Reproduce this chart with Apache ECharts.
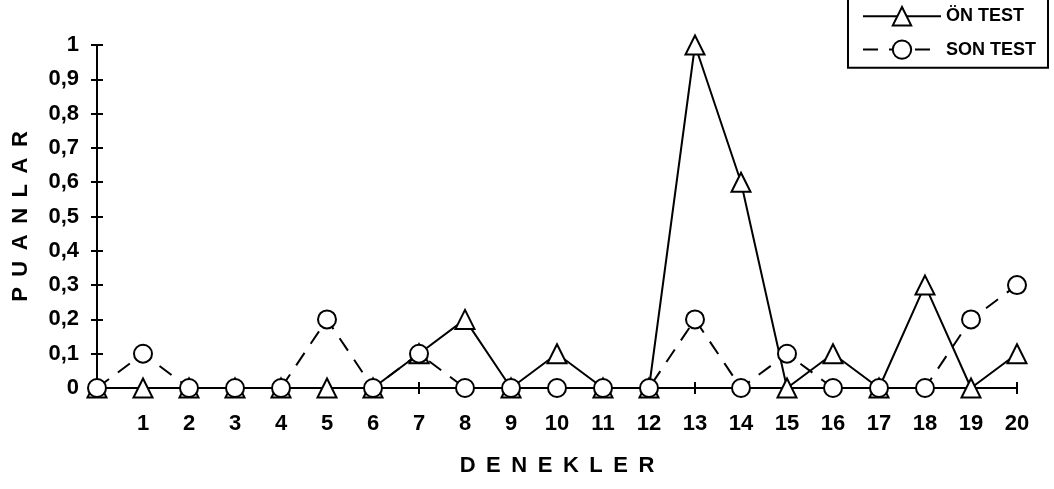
<!DOCTYPE html>
<html>
<head>
<meta charset="utf-8">
<script src="https://cdn.jsdelivr.net/npm/echarts@6/dist/echarts.min.js"></script>
<style>html,body{margin:0;padding:0;background:#fff}#c{width:1054px;height:489px}</style>
</head>
<body>
<div id="c"></div>
<script>
var categories = ['', '1', '2', '3', '4', '5', '6', '7', '8', '9', '10', '11', '12', '13', '14', '15', '16', '17', '18', '19', '20'];
var onTest = [0, 0, 0, 0, 0, 0, 0, 0.1, 0.2, 0, 0.1, 0, 0, 1, 0.6, 0, 0.1, 0, 0.3, 0, 0.1];
var sonTest = [0, 0.1, 0, 0, 0, 0.2, 0, 0.1, 0, 0, 0, 0, 0, 0.2, 0, 0.1, 0, 0, 0, 0.2, 0.3];
var yMin = 0, yMax = 1, yStep = 0.1;

var FONT = 'Liberation Sans, Arial, sans-serif';
var SP = ' \u2009';
function spaced(s) { return s.split('').join(SP); }
var chart = echarts.init(document.getElementById('c'));
chart.setOption({
  animation: false,
  backgroundColor: '#fff',
  grid: {left: 97, right: 37, top: 45, bottom: 101},
  legend: {
    orient: 'vertical',
    right: 6,
    top: -4,
    padding: [10, 12, 8, 14],
    itemWidth: 78,
    itemHeight: 23,
    itemGap: 13,
    borderColor: '#000',
    borderWidth: 2,
    backgroundColor: '#fff',
    textStyle: {fontFamily: FONT, fontWeight: 'bold', fontSize: 18, color: '#000'},
    data: ['ÖN TEST', 'SON TEST']
  },
  xAxis: [{
    type: 'category',
    data: categories,
    boundaryGap: false,
    axisLine: {lineStyle: {color: '#000', width: 2}},
    axisTick: {show: true, length: 6, interval: 0, lineStyle: {color: '#000', width: 2}},
    axisLabel: {interval: 0, margin: 25, fontFamily: FONT, fontWeight: 'bold', fontSize: 22, color: '#000'},
    name: spaced('DENEKLER'),
    nameLocation: 'middle',
    nameGap: 67,
    nameTextStyle: {fontFamily: FONT, fontWeight: 'bold', fontSize: 22, color: '#000'}
  }, {
    type: 'category',
    data: categories,
    boundaryGap: false,
    position: 'bottom',
    axisLine: {show: false},
    axisTick: {show: true, inside: true, length: 6, interval: 0, lineStyle: {color: '#000', width: 2}},
    axisLabel: {show: false}
  }],
  yAxis: [{
    type: 'value',
    min: yMin, max: yMax, interval: yStep,
    axisLine: {show: true, lineStyle: {color: '#000', width: 2}},
    axisTick: {show: true, length: 6, lineStyle: {color: '#000', width: 2}},
    splitLine: {show: false},
    axisLabel: {
      margin: 18, fontFamily: FONT, fontWeight: 'bold', fontSize: 22, color: '#000',
      formatter: function (v) { return String(Math.round(v * 10) / 10).replace('.', ','); }
    },
    name: spaced('PUANLAR'),
    nameLocation: 'middle',
    nameGap: 65,
    nameTextStyle: {fontFamily: FONT, fontWeight: 'bold', fontSize: 22, color: '#000'}
  }, {
    type: 'value',
    position: 'left',
    min: yMin, max: yMax, interval: yStep,
    axisLine: {show: false},
    axisTick: {show: true, inside: true, length: 6, lineStyle: {color: '#000', width: 2}},
    splitLine: {show: false},
    axisLabel: {show: false}
  }],
  series: [{
    name: 'ÖN TEST',
    type: 'line',
    data: onTest,
    symbol: 'triangle',
    symbolSize: 19,
    showAllSymbol: true,
    lineStyle: {color: '#000', width: 2},
    itemStyle: {color: '#fff', borderColor: '#000', borderWidth: 2}
  }, {
    name: 'SON TEST',
    type: 'line',
    data: sonTest,
    symbol: 'circle',
    symbolSize: 18,
    showAllSymbol: true,
    lineStyle: {color: '#000', width: 2, type: [15, 11]},
    itemStyle: {color: '#fff', borderColor: '#000', borderWidth: 2}
  }]
});
</script>
</body>
</html>
